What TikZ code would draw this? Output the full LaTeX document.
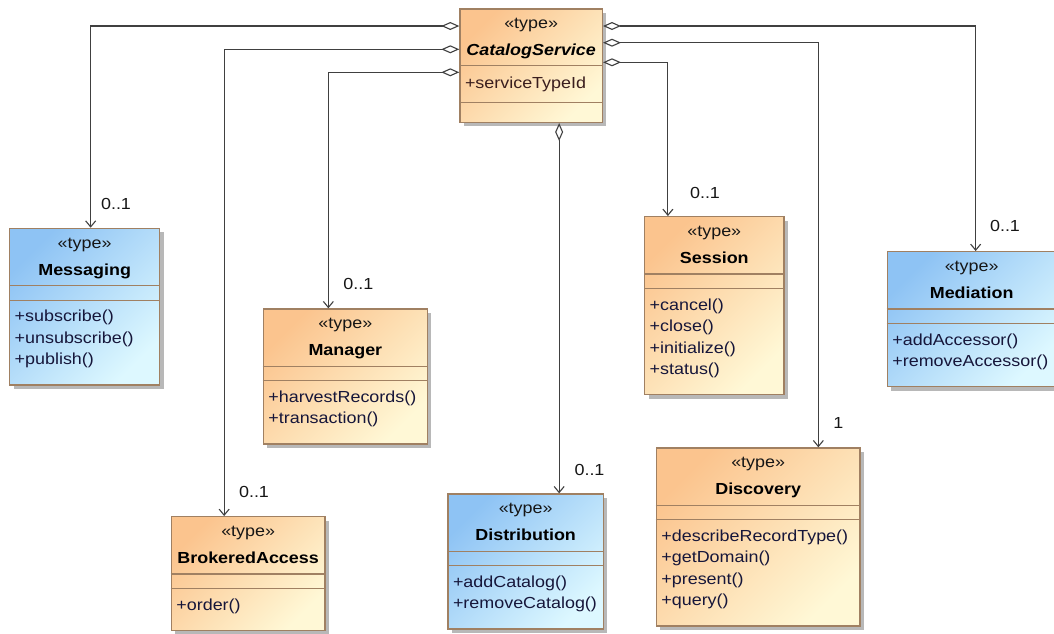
\documentclass[tikz,border=0pt]{standalone}
\usepackage{fontspec}
\setmainfont{Liberation Sans}[FakeStretch=1.12]
\usetikzlibrary{arrows.meta,shadows}
\definecolor{or1}{HTML}{FBC48E}
\definecolor{or2}{HTML}{FFF8D6}
\definecolor{bl1}{HTML}{8EC3F4}
\definecolor{bl2}{HTML}{DDF8FF}
\definecolor{bordc}{HTML}{A08062}
\definecolor{linec}{HTML}{404040}
\definecolor{opc}{HTML}{16163A}
\definecolor{txtc}{HTML}{161616}
\definecolor{attc}{HTML}{3A1E1E}
\tikzset{
  fnt/.style={font=\fontsize{16}{19}\selectfont},
  cls/.style={draw=bordc, line width=1.3pt, inner sep=0pt, anchor=north west,
    drop shadow={shadow xshift=4pt, shadow yshift=-4pt, fill=black!28, opacity=1}},
  orangebox/.style={cls, top color=or1, bottom color=or2, shading angle=45},
  bluebox/.style={cls, top color=bl1, bottom color=bl2, shading angle=45},
  sepline/.style={draw=bordc, line width=1.2pt},
  stereo/.style={fnt, text=txtc, anchor=base, inner sep=0pt},
  cname/.style={fnt, font=\fontsize{16}{19}\selectfont\bfseries, text=black, anchor=base, inner sep=0pt},
  opt/.style={fnt, text=opc, anchor=base west, inner sep=0pt},
  mult/.style={fnt, text=txtc, inner sep=0pt},
  assoc/.style={draw=linec, line width=1.1pt,
    {Diamond[length=18pt,width=8pt,fill=white]}-{Straight Barb[length=6pt,width=10pt]}},
}
\newcommand\mkclass[8]{%
  \node[#2, minimum width=#5pt, minimum height=#6pt] (#1) at (#3,#4) {};
  \draw[sepline] ([yshift=-58pt]#1.north west) -- ([yshift=-58pt]#1.north east);
  \draw[sepline] ([yshift=-72.5pt]#1.north west) -- ([yshift=-72.5pt]#1.north east);
  \node[stereo] at ([yshift=-20.5pt]#1.north) {«type»};
  \node[cname] at ([yshift=-47.5pt]#1.north) {#7};
  \foreach \op [count=\i] in {#8} {
    \node[opt] at ([xshift=5.5pt,yshift={-94pt-21.5pt*(\i-1)}]#1.north west) {\op};
  }%
}
\begin{document}
\begin{tikzpicture}[x=1pt,y=-1pt]
\fill[white] (0,0) rectangle (1054,633);
\useasboundingbox (0,0) rectangle (1054,633);

% CatalogService
\node[orangebox, minimum width=142.4pt, minimum height=113.4pt] (cat) at (459.3,8.3) {};
\draw[sepline] ([yshift=-57.4pt]cat.north west) -- ([yshift=-57.4pt]cat.north east);
\draw[sepline] ([yshift=-94pt]cat.north west) -- ([yshift=-94pt]cat.north east);
\node[stereo] at ([yshift=-20.5pt]cat.north) {«type»};
\node[cname, font=\fontsize{16}{19}\selectfont\bfseries\itshape] at ([yshift=-46.7pt]cat.north) {CatalogService};
\node[opt, text=attc] at ([xshift=5.5pt,yshift=-80pt]cat.north west) {+serviceTypeId};

\mkclass{msg}{bluebox}{9}{227.7}{150}{156.5}{Messaging}{+subscribe(),+unsubscribe(),+publish()}
\mkclass{mgr}{orangebox}{262.7}{308.3}{164}{135}{Manager}{+harvestRecords(),+transaction()}
\mkclass{ses}{orangebox}{644}{216}{139.3}{178}{Session}{+cancel(),+close(),+initialize(),+status()}
\mkclass{med}{bluebox}{886.7}{251}{168.6}{135}{Mediation}{+addAccessor(),+removeAccessor()}
\mkclass{brk}{orangebox}{170.7}{516}{153.6}{113.5}{BrokeredAccess}{+order()}
\mkclass{dist}{bluebox}{447.3}{493.3}{155.4}{135}{Distribution}{+addCatalog(),+removeCatalog()}
\mkclass{disc}{orangebox}{655.7}{447.3}{203.6}{178}{Discovery}{+describeRecordType(),+getDomain(),+present(),+query()}

% associations
\draw[assoc] ([yshift=-17.7pt]cat.north west) -| ([xshift=6pt]msg.north);
\draw[assoc] ([yshift=-41pt]cat.north west) -| ([xshift=-24pt]brk.north);
\draw[assoc] ([yshift=-64pt]cat.north west) -| ([xshift=-17pt]mgr.north);
\coordinate (s4) at ([xshift=28pt]cat.south);
\draw[assoc] (s4) -- (s4 |- dist.north);
\draw[assoc] ([yshift=-17.7pt]cat.north east) -| ([xshift=4pt]med.north);
\draw[assoc] ([yshift=-34.4pt]cat.north east) -| ([xshift=60.2pt]disc.north);
\draw[assoc] ([yshift=-54pt]cat.north east) -| ([xshift=-46.4pt]ses.north);

% multiplicities
\node[mult] (m1) at (116,204) {0..1};
\node[mult] (m2) at (254,492.3) {0..1};
\node[mult] (m3) at (358.3,284) {0..1};
\node[mult] (m4) at (589.5,470) {0..1};
\node[mult] (m5) at (705,192.7) {0..1};
\node[mult] (m6) at (838.3,422.7) {1};
\node[mult] (m7) at (1005,226) {0..1};
\end{tikzpicture}
\end{document}
